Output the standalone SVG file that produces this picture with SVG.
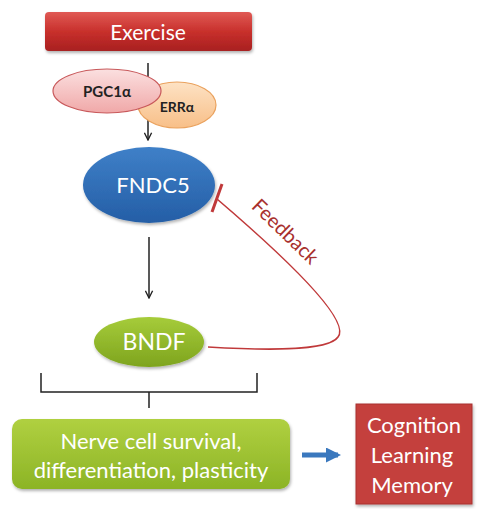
<svg xmlns="http://www.w3.org/2000/svg" width="478" height="509" viewBox="0 0 478 509">
<defs>
<linearGradient id="gRed" x1="0" y1="0" x2="0" y2="1">
<stop offset="0" stop-color="#e05a55"/><stop offset="0.5" stop-color="#c8302c"/><stop offset="1" stop-color="#a82020"/>
</linearGradient>
<linearGradient id="gPink" x1="0" y1="0" x2="0" y2="1">
<stop offset="0" stop-color="#fbe0e0"/><stop offset="1" stop-color="#f0a8a8"/>
</linearGradient>
<linearGradient id="gPeach" x1="0" y1="0" x2="0" y2="1">
<stop offset="0" stop-color="#fde2c4"/><stop offset="1" stop-color="#f8bf88"/>
</linearGradient>
<linearGradient id="gBlue" x1="0" y1="0" x2="0" y2="1">
<stop offset="0" stop-color="#3f80c8"/><stop offset="1" stop-color="#245ea6"/>
</linearGradient>
<linearGradient id="gGreen" x1="0" y1="0" x2="0" y2="1">
<stop offset="0" stop-color="#a6cc3a"/><stop offset="1" stop-color="#7ea41e"/>
</linearGradient>
<linearGradient id="gGreen2" x1="0" y1="0" x2="0" y2="1">
<stop offset="0" stop-color="#b0d040"/><stop offset="1" stop-color="#8cb426"/>
</linearGradient>
<marker id="ah" viewBox="0 0 10 10" refX="9" refY="5" markerWidth="9" markerHeight="9" markerUnits="userSpaceOnUse" orient="auto">
<path d="M1,1 L9,5 L1,9" fill="none" stroke="#222" stroke-width="1.5"/>
</marker>
<marker id="ahBlue" viewBox="0 0 10 10" refX="8" refY="5" markerWidth="3" markerHeight="3" orient="auto">
<path d="M0,0 L10,5 L0,10 Z" fill="#3a78be"/>
</marker>
<filter id="sh" x="-10%" y="-10%" width="130%" height="140%">
<feDropShadow dx="1" dy="2" stdDeviation="1.5" flood-color="#000" flood-opacity="0.3"/>
</filter>
</defs>
<style>
.t{font-family:"Lato","Open Sans","Liberation Sans",sans-serif;fill:#fff;text-anchor:middle}
.b{font-family:"Lato","Open Sans","Liberation Sans",sans-serif;font-weight:bold;fill:#222;text-anchor:middle}
.c{fill:none;stroke:#222;stroke-width:1.5}
</style>
<rect width="478" height="509" fill="#fff"/>

<g id="connectors">
<line class="c" x1="148" y1="63" x2="148" y2="140" marker-end="url(#ah)"/>
<line class="c" x1="149" y1="237" x2="149" y2="298" marker-end="url(#ah)"/>
<path d="M217,199 C300,270 350,322 338,337 C328,352 260,350 208,347" fill="none" stroke="#c0393a" stroke-width="1.6"/>
<line x1="222" y1="184" x2="212" y2="212" stroke="#c0393a" stroke-width="3"/>
<text x="284" y="238" transform="rotate(44 284 233)" font-family="Lato,'Open Sans','Liberation Sans',sans-serif" font-size="20" fill="#a8302e" text-anchor="middle">Feedback</text>
<path class="c" d="M41,373 L41,392 L257,392 L257,373 M149,392 L149,408"/>
<line x1="302" y1="455" x2="338" y2="455" stroke="#3a78be" stroke-width="5" marker-end="url(#ahBlue)"/>
</g>

<g id="exercise">
<rect x="45" y="12" width="207" height="39" rx="4" fill="url(#gRed)" filter="url(#sh)"/>
<text class="t" x="148" y="40" font-size="21">Exercise</text>
</g>

<g id="erra">
<ellipse cx="177" cy="105" rx="39" ry="23" fill="url(#gPeach)" stroke="#eaa25e" stroke-width="1.2"/>
<text class="b" x="177" y="112" font-size="14">ERRα</text>
</g>

<g id="pgc1a">
<ellipse cx="107" cy="91" rx="54" ry="22" fill="url(#gPink)" stroke="#c8585a" stroke-width="1.2"/>
<text class="b" x="107" y="97" font-size="15">PGC1α</text>
</g>

<g id="fndc5">
<ellipse cx="149" cy="185" rx="66" ry="38" fill="url(#gBlue)" filter="url(#sh)"/>
<text class="t" x="153" y="193" font-size="22">FNDC5</text>
</g>

<g id="bndf">
<ellipse cx="149" cy="342" rx="55" ry="25" fill="url(#gGreen)" filter="url(#sh)"/>
<text class="t" x="154" y="350" font-size="23">BNDF</text>
</g>

<g id="nerve">
<rect x="12" y="419" width="278" height="70" rx="10" fill="url(#gGreen2)" filter="url(#sh)"/>
<text class="t" x="151" y="449" font-size="22">Nerve cell survival,</text>
<text class="t" x="151" y="478" font-size="22">differentiation, plasticity</text>
</g>

<g id="cognition">
<rect x="356" y="404" width="116" height="100" fill="#c4403c" stroke="#a83030" stroke-width="1" filter="url(#sh)"/>
<text class="t" x="414" y="433" font-size="22">Cognition</text>
<text class="t" x="412" y="463" font-size="22">Learning</text>
<text class="t" x="412" y="493" font-size="22">Memory</text>
</g>
</svg>
